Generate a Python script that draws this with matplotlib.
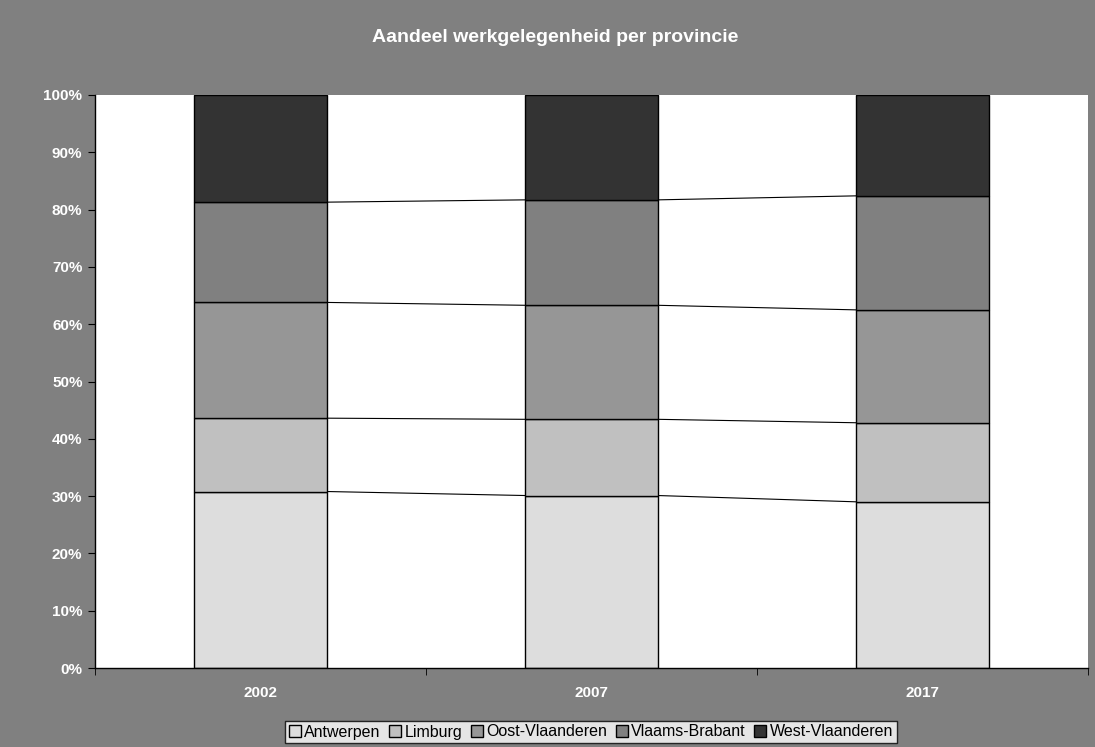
import matplotlib.pyplot as plt
import numpy as np
from matplotlib.ticker import FuncFormatter

plt.rcParams['font.family'] = ['Liberation Sans', 'DejaVu Sans']

years = ["2002", "2007", "2017"]
provinces = ["Antwerpen", "Limburg", "Oost-Vlaanderen", "Vlaams-Brabant", "West-Vlaanderen"]
antwerpen = [30.8, 30.1, 29.0]
limburg = [12.8, 13.3, 13.8]
oost_vlaanderen = [20.2, 19.9, 19.7]
vlaams_brabant = [17.5, 18.4, 19.9]
west_vlaanderen = [18.7, 18.3, 17.6]
colors = ["#dddddd", "#c0c0c0", "#969696", "#808080", "#333333"]

series = [antwerpen, limburg, oost_vlaanderen, vlaams_brabant, west_vlaanderen]
width = 0.4

fig = plt.figure(figsize=(10.95, 7.47), dpi=100, facecolor="#808080")
ax = fig.add_axes([95 / 1095, 1 - 668 / 747, 993 / 1095, 573 / 747])
ax.set_facecolor("white")

x = np.arange(len(years))
bottom = np.zeros(len(years))
for name, vals, c in zip(provinces, series, colors):
    vals = np.array(vals)
    ax.bar(x, vals, width, bottom=bottom, color=c, edgecolor="black",
           linewidth=1.0, label=name, zorder=2)
    bottom = bottom + vals
    # series lines between neighbouring bars
    if name != provinces[-1]:
        for i in range(len(years) - 1):
            ax.plot([x[i] + width / 2, x[i + 1] - width / 2],
                    [bottom[i], bottom[i + 1]], color="black", lw=0.8, zorder=1)

ax.set_xlim(-0.5, len(years) - 0.5)
ax.set_ylim(0, 100)
ax.set_yticks(np.arange(0, 101, 10))
ax.yaxis.set_major_formatter(FuncFormatter(lambda v, _: f"{v:.0f}%"))
ax.set_xticks(x)
ax.set_xticklabels(years)
ax.set_xticks(np.arange(-0.5, len(years), 1), minor=True)
ax.tick_params(axis="x", which="major", length=0, pad=13)
ax.tick_params(axis="x", which="minor", length=5, direction="out", color="black")
ax.tick_params(axis="y", length=5, direction="out", color="black", pad=4)
for lab in ax.get_xticklabels() + ax.get_yticklabels():
    lab.set_color("white")
    lab.set_fontweight("bold")
    lab.set_fontsize(11)

for s in ["top", "right"]:
    ax.spines[s].set_visible(False)
for s in ["left", "bottom"]:
    ax.spines[s].set_color("black")
    ax.spines[s].set_linewidth(1.0)

fig.text(555 / 1095, 1 - 38 / 747, "Aandeel werkgelegenheid per provincie",
         ha="center", va="center", color="white", fontweight="bold", fontsize=14)

leg = fig.legend(loc="center", bbox_to_anchor=(591 / 1095, 1 - 732 / 747), ncol=5,
                 frameon=True, fancybox=False, fontsize=11.5, handlelength=0.75,
                 handleheight=0.75, handletextpad=0.2, columnspacing=0.55,
                 borderpad=0.25, borderaxespad=0, edgecolor="black")
leg.get_frame().set_linewidth(1.0)
leg.get_frame().set_facecolor("white")

fig.savefig("out.png", dpi=100, facecolor=fig.get_facecolor())
